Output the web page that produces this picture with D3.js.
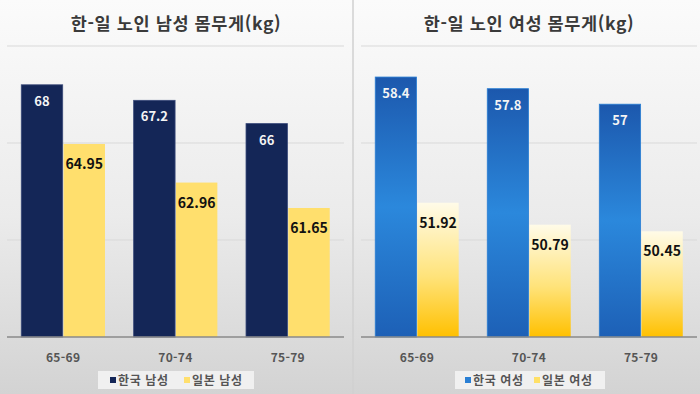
<!DOCTYPE html>
<html lang="ko">
<head>
<meta charset="UTF-8" />
<title>한-일 노인 몸무게</title>
<script src="https://d3js.org/d3.v7.min.js"></script>
<style>
  body { margin: 0; background: #fff; }
  svg { display: block; font-family: "Noto Sans CJK KR", "Noto Sans", sans-serif; }
</style>
</head>
<body>
<svg id="chart" width="700" height="394"></svg>
<script>
// data
const ageGroups = ["65-69", "70-74", "75-79"];
const koreaMen = [68, 67.2, 66];
const japanMen = [64.95, 62.96, 61.65];
const koreaWomen = [58.4, 57.8, 57];
const japanWomen = [51.92, 50.79, 50.45];
const menTicks = [55, 60, 65, 70];
const womenTicks = [45, 50, 55, 60];

const svg = d3.select("#chart");
const defs = svg.append("defs");

// backgrounds
const bg = defs.append("linearGradient").attr("id", "bg").attr("x1", 0).attr("x2", 0).attr("y1", 0).attr("y2", 1);
bg.append("stop").attr("offset", 0).attr("stop-color", "#fbfbfb");
bg.append("stop").attr("offset", 0.55).attr("stop-color", "#ebebeb");
bg.append("stop").attr("offset", 1).attr("stop-color", "#d3d3d3");

const blue = defs.append("linearGradient").attr("id", "blueG").attr("x1", 0).attr("x2", 0).attr("y1", 0).attr("y2", 1);
blue.append("stop").attr("offset", 0).attr("stop-color", "#1c58ad");
blue.append("stop").attr("offset", 0.5).attr("stop-color", "#2b88dc");
blue.append("stop").attr("offset", 1).attr("stop-color", "#1d60b6");

const gold = defs.append("linearGradient").attr("id", "goldG").attr("x1", 0).attr("x2", 0).attr("y1", 0).attr("y2", 1);
gold.append("stop").attr("offset", 0).attr("stop-color", "#fffbe8");
gold.append("stop").attr("offset", 0.55).attr("stop-color", "#ffe37a");
gold.append("stop").attr("offset", 1).attr("stop-color", "#ffc000");

svg.append("rect").attr("width", 700).attr("height", 394).attr("fill", "url(#bg)");
svg.append("line").attr("x1", 353).attr("x2", 353).attr("y1", 0).attr("y2", 394)
  .attr("stroke", "#d0d0d0").attr("stroke-width", 1.5);

const panels = [
  {
    title: "한-일 노인 남성 몸무게(kg)", cx: 176, x0: 7, x1: 344,
    kr: koreaMen, jp: japanMen, ticks: menTicks,
    krFill: "#142657", jpFill: "#ffdf6d", krStroke: "#3a4a7a",
    names: ["한국 남성", "일본 남성"],
    legend: { x: 98, w: 156, sq1: 110, t1: 118, sq2: 184, t2: 192 }
  },
  {
    title: "한-일 노인 여성 몸무게(kg)", cx: 529, x0: 361, x1: 697,
    kr: koreaWomen, jp: japanWomen, ticks: womenTicks,
    krFill: "url(#blueG)", jpFill: "url(#goldG)", krStroke: "#2a7fd4",
    names: ["한국 여성", "일본 여성"],
    legend: { x: 455, w: 150, sq1: 465, t1: 473, sq2: 534, t2: 542 }
  }
];

panels.forEach(p => {
  const g = svg.append("g");
  const y = d3.scaleLinear().domain([p.ticks[0], p.ticks[p.ticks.length - 1]]).range([337, 46]);
  const x = d3.scaleBand().domain(ageGroups).range([p.x0, p.x1]).paddingInner(0.255).paddingOuter(0.127);
  const sub = d3.scaleBand().domain(["kr", "jp"]).range([0, x.bandwidth()]).paddingInner(0.02);

  g.append("text").attr("x", p.cx).attr("y", 30).attr("text-anchor", "middle")
    .attr("font-size", 17.5).attr("letter-spacing", 0.6).attr("font-weight", 700)
    .attr("fill", "#3a3a3a").text(p.title);

  // gridlines
  g.selectAll(".grid").data(p.ticks.slice(1)).join("line")
    .attr("x1", p.x0).attr("x2", p.x1)
    .attr("y1", d => y(d)).attr("y2", d => y(d))
    .attr("stroke", "#d9d9d9").attr("stroke-width", 1);

  const rows = ageGroups.map((a, i) => ({ age: a, kr: p.kr[i], jp: p.jp[i] }));
  const grp = g.selectAll(".grp").data(rows).join("g")
    .attr("transform", d => `translate(${x(d.age)},0)`);

  grp.append("rect").attr("x", sub("kr")).attr("width", sub.bandwidth())
    .attr("y", d => y(d.kr)).attr("height", d => y(p.ticks[0]) - y(d.kr))
    .attr("fill", p.krFill).attr("stroke", p.krStroke).attr("stroke-width", 0.8);
  grp.append("rect").attr("x", sub("jp")).attr("width", sub.bandwidth())
    .attr("y", d => y(d.jp)).attr("height", d => y(p.ticks[0]) - y(d.jp))
    .attr("fill", p.jpFill);

  grp.append("text").attr("x", sub("kr") + sub.bandwidth() / 2).attr("y", d => y(d.kr) + 21)
    .attr("text-anchor", "middle").attr("font-size", 13).attr("font-weight", 700)
    .attr("fill", "#f4f4f4").text(d => d.kr);
  grp.append("text").attr("x", sub("jp") + sub.bandwidth() / 2).attr("y", d => y(d.jp) + 25)
    .attr("text-anchor", "middle").attr("font-size", 14).attr("font-weight", 700)
    .attr("fill", "#111").text(d => d.jp);

  // baseline + x labels
  g.append("line").attr("x1", p.x0).attr("x2", p.x1)
    .attr("y1", y(p.ticks[0])).attr("y2", y(p.ticks[0]))
    .attr("stroke", "#8a8a8a").attr("stroke-width", 1.5);
  g.selectAll(".xl").data(ageGroups).join("text")
    .attr("x", d => x(d) + x.bandwidth() / 2).attr("y", 362)
    .attr("text-anchor", "middle").attr("font-size", 12).attr("font-weight", 700)
    .attr("letter-spacing", 0.3).attr("fill", "#555").text(d => d);

  // legend
  const L = p.legend;
  g.append("rect").attr("x", L.x).attr("y", 371).attr("width", L.w).attr("height", 18)
    .attr("fill", "#f0f0f0");
  g.append("rect").attr("x", L.sq1).attr("y", 377).attr("width", 6).attr("height", 6).attr("fill", p.krFill === "url(#blueG)" ? "#2a7fd4" : p.krFill);
  g.append("rect").attr("x", L.sq2).attr("y", 377).attr("width", 6).attr("height", 6).attr("fill", p.jpFill === "url(#goldG)" ? "#ffe066" : p.jpFill);
  g.append("text").attr("x", L.t1).attr("y", 384.5).attr("font-size", 12).attr("font-weight", 700)
    .attr("letter-spacing", 0.6).attr("fill", "#555").text(p.names[0]);
  g.append("text").attr("x", L.t2).attr("y", 384.5).attr("font-size", 12).attr("font-weight", 700)
    .attr("letter-spacing", 0.6).attr("fill", "#555").text(p.names[1]);
});
</script>
</body>
</html>
